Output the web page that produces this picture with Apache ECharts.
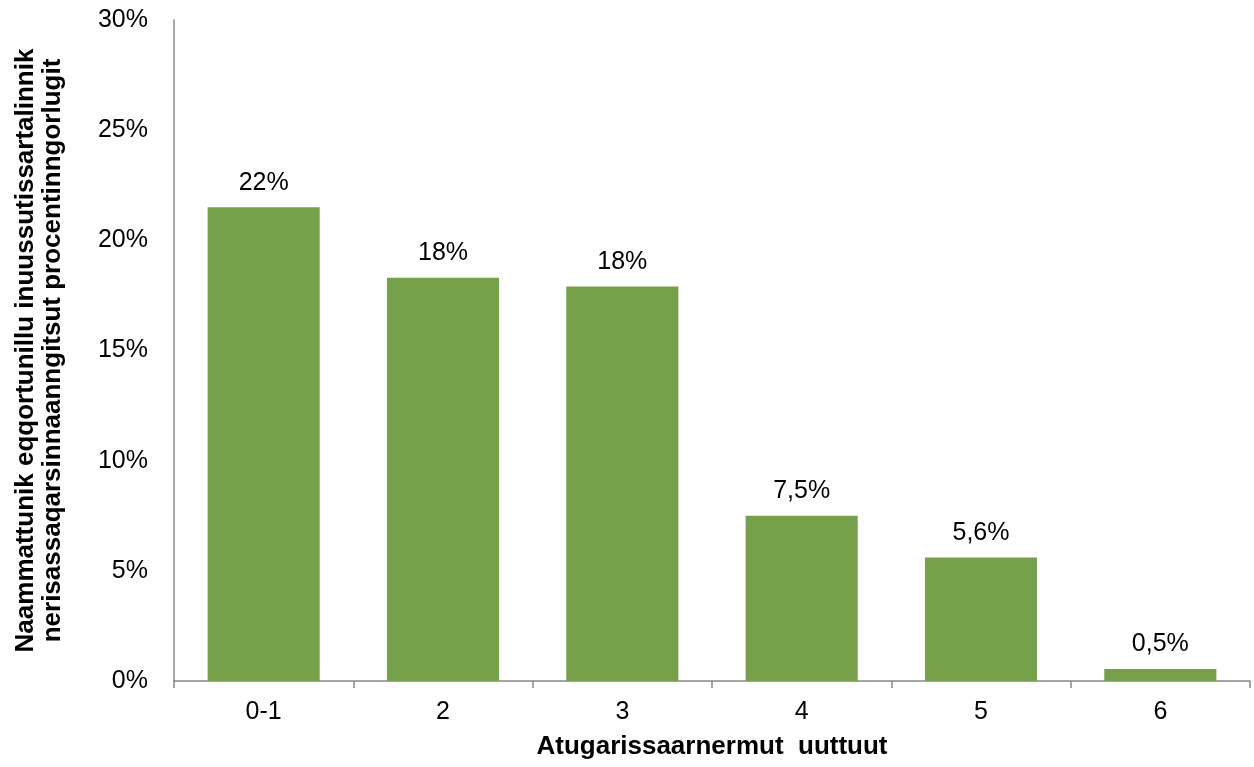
<!DOCTYPE html>
<html><head><meta charset="utf-8">
<script src="https://cdn.jsdelivr.net/npm/echarts@6/dist/echarts.min.js"></script>
<style>html,body{margin:0;padding:0;background:#fff}#c{width:1254px;height:767px}</style>
</head><body><div id="c"></div>
<script>
const categories = ['0-1','2','3','4','5','6'];
const values = [21.5, 18.3, 17.9, 7.5, 5.6, 0.54];
const valueLabels = ['22%','18%','18%','7,5%','5,6%','0,5%'];
const yTicks = [0,5,10,15,20,25,30];

const chart = echarts.init(document.getElementById('c'));
chart.setOption({
  animation:false,
  grid:{left:174,right:4,top:20,bottom:86,outerBoundsMode:'none',containLabel:false},
  xAxis:{
    type:'category', data:categories,
    name:'Atugarissaarnermut  uuttuut', nameLocation:'middle', nameGap:53,
    nameTextStyle:{fontFamily:'Liberation Sans',fontWeight:'bold',fontSize:26,color:'#000'},
    axisLine:{lineStyle:{color:'#888',width:1.5}},
    axisTick:{show:true,length:7,lineStyle:{color:'#888',width:1.5}},
    axisLabel:{fontFamily:'Liberation Sans',fontSize:25,color:'#000',margin:19}
  },
  yAxis:{
    type:'value', min:0, max:30, interval:5,
    name:'Naammattunik eqqortunillu inuussutissartalinnik\nnerisassaqarsinnaanngitsut procentinngorlugit',
    nameLocation:'middle', nameGap:108, nameRotate:90,
    nameTextStyle:{fontFamily:'Liberation Sans',fontWeight:'bold',fontSize:26,color:'#000',lineHeight:27},
    axisLine:{show:true,lineStyle:{color:'#888',width:1.5}},
    axisTick:{show:false},
    splitLine:{show:false},
    axisLabel:{fontFamily:'Liberation Sans',fontSize:25,color:'#000',margin:26,
      formatter:v=>yTicks.includes(v)?v+'%':''}
  },
  series:[{
    type:'bar', data:values, barWidth:'62.5%',
    itemStyle:{color:'#77A04A'},
    label:{show:true,position:'top',distance:12,fontFamily:'Liberation Sans',fontSize:25,color:'#000',
      formatter:p=>valueLabels[p.dataIndex]}
  }]
});
</script></body></html>
